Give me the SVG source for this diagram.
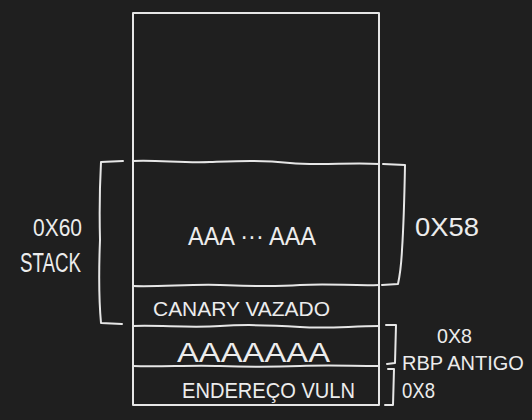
<svg xmlns="http://www.w3.org/2000/svg" width="532" height="420" viewBox="0 0 532 420">
<style>
.s{fill:none;stroke:#e6e6e6;stroke-width:2;stroke-linecap:round;stroke-linejoin:round}
.t{fill:#ececec;font-family:"Liberation Sans",Arial,sans-serif}
</style>
<rect width="532" height="420" fill="#1f1f1f"/>
<g id="stack-frame">
<rect class="s" x="133" y="13" width="246" height="392"/>
</g>
<g id="connectors">
<path class="s" d="M133 161 C160 160 180 163 210 162 S260 160 290 163 S350 162 379 164"/>
<path class="s" d="M133 286 C160 287 190 284 220 285 S270 287 300 285 S350 286 379 285"/>
<path class="s" d="M133 326 C160 325 190 328 220 326 S270 325 300 327 S350 326 379 326"/>
<path class="s" d="M133 366 C160 367 190 365 220 366 S270 367 300 366 S350 366 379 366"/>
<path class="s" d="M123 161 L101 162 Q99 200 100 240 Q98 290 101 323 L122 324"/>
<path class="s" d="M383 164 L405 165 Q404 220 402 250 Q401 270 398 284 L382 285"/>
<path class="s" d="M386 325 L396 325 L395 363 L387 364"/>
<path class="s" d="M388 369 L394 369 L393 405 L385 405"/>
</g>
<g id="labels">
<text class="t" x="33" y="236" style="font-size:23px" textLength="49" lengthAdjust="spacingAndGlyphs">0X60</text>
<text class="t" x="20" y="272" style="font-size:27px" textLength="61" lengthAdjust="spacingAndGlyphs">STACK</text>
<text class="t" x="188" y="245" style="font-size:25px" textLength="128" lengthAdjust="spacingAndGlyphs">AAA ··· AAA</text>
<text class="t" x="153" y="316" style="font-size:21px" textLength="177" lengthAdjust="spacingAndGlyphs">CANARY  VAZADO</text>
<text class="t" x="177" y="362" style="font-size:28px" textLength="153" lengthAdjust="spacingAndGlyphs">AAAAAAA</text>
<text class="t" x="182" y="398" style="font-size:22px" textLength="173" lengthAdjust="spacingAndGlyphs">ENDEREÇO VULN</text>
<text class="t" x="415" y="236" style="font-size:25px" textLength="64" lengthAdjust="spacingAndGlyphs">0X58</text>
<text class="t" x="437" y="343" style="font-size:21px" textLength="35" lengthAdjust="spacingAndGlyphs">0X8</text>
<text class="t" x="402" y="370" style="font-size:20px">RBP ANTIGO</text>
<text class="t" x="402" y="398" style="font-size:22px" textLength="33" lengthAdjust="spacingAndGlyphs">0X8</text>
</g>
</svg>
